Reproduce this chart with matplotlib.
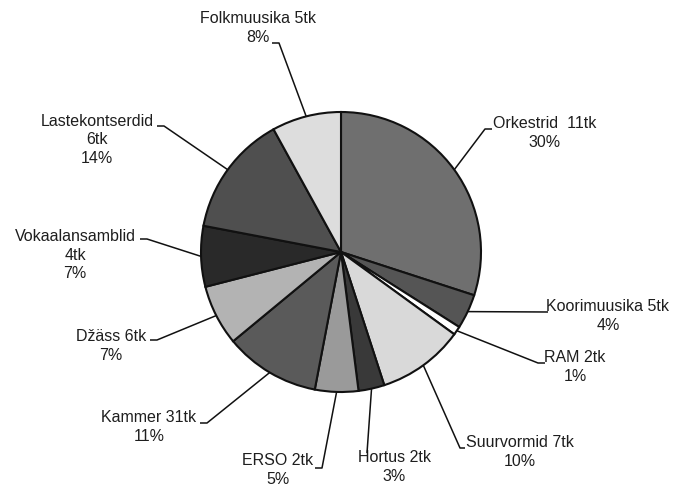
import numpy as np
import matplotlib
matplotlib.use("Agg")
import matplotlib.pyplot as plt

# ---- data ----
names = ["Orkestrid", "Koorimuusika", "RAM", "Suurvormid", "Hortus", "ERSO",
         "Kammer", "Džäss", "Vokaalansamblid", "Lastekontserdid", "Folkmuusika"]
counts = [11, 5, 2, 7, 2, 2, 31, 6, 4, 6, 5]
percents = [30, 4, 1, 10, 3, 5, 11, 7, 7, 14, 8]
label_texts = ["Orkestrid  11tk\n30%", "Koorimuusika 5tk\n4%", "RAM 2tk\n1%",
               "Suurvormid 7tk\n10%", "Hortus 2tk\n3%", "ERSO 2tk\n5%",
               "Kammer 31tk\n11%", "Džäss 6tk\n7%", "Vokaalansamblid\n4tk\n7%",
               "Lastekontserdid\n6tk\n14%", "Folkmuusika 5tk\n8%"]

# ---- styles / layout (pixel coordinates, y downward) ----
colors = ["#6f6f6f", "#555555", "#ffffff", "#d9d9d9", "#393939", "#9a9a9a",
          "#5a5a5a", "#b3b3b3", "#292929", "#4f4f4f", "#dddddd"]
W, H = 673, 486
cx, cy, R = 341, 252, 140
text_pos = [(545, 133), (608, 316), (575, 367), (520, 452), (394, 467), (278, 470),
            (149, 427), (111, 346), (75, 255), (97, 140), (258, 28)]
knees = [(485, 129), (548, 312), (538, 363), (460, 448), (367, 453), (322, 468),
         (207, 423), (157, 340), (147, 239), (164, 126), (279, 43)]
ticks = [(492, 129), (548, 312), (545, 363), (465, 448), (367, 453), (315, 468),
         (200, 423), (150, 340), (140, 239), (157, 126), (272, 43)]

fig = plt.figure(figsize=(W / 100, H / 100), dpi=100)
ax = fig.add_axes([0, 0, 1, 1])

wedges, _ = ax.pie(percents, colors=colors, startangle=90, counterclock=False,
                   center=(cx, H - cy), radius=R, frame=True,
                   wedgeprops=dict(edgecolor="#111111", linewidth=1.5))
ax.set_xlim(0, W)
ax.set_ylim(0, H)
ax.set_aspect("equal")
ax.axis("off")

total = sum(percents)
cum = 0
for i, p in enumerate(percents):
    mid = (cum + p / 2) / total * 2 * np.pi
    cum += p
    ex = cx + R * np.sin(mid)
    ey = cy - R * np.cos(mid)
    kx, ky = knees[i]
    tx, ty = ticks[i]
    ax.plot([ex, kx, tx], [H - ey, H - ky, H - ty], color="#111111", lw=1.1,
            solid_capstyle="butt", zorder=5)
    ax.text(text_pos[i][0], H - text_pos[i][1], label_texts[i], ha="center", va="center",
            fontsize=11.5, family="Liberation Sans", color="#1e1e1e", linespacing=1.33)

fig.savefig("out.png", dpi=100)
